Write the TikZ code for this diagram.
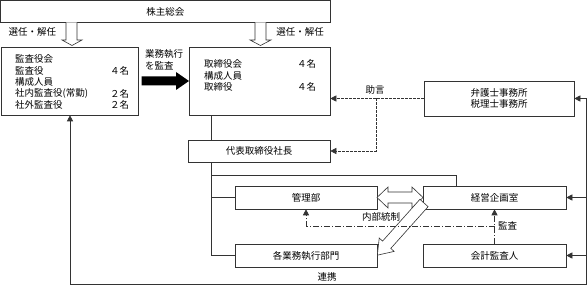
\documentclass[tikz,border=0pt]{standalone}
\usepackage{fontspec}
\setmainfont{Noto Sans CJK JP}
\usetikzlibrary{arrows.meta,calc}
\begin{document}
\begin{tikzpicture}[x=1pt,y=-1pt,
  font=\fontsize{9.5}{11}\selectfont,
  ln/.style={draw=black!80, line width=0.6pt},
  box/.style={ln, rectangle, inner sep=0pt, align=center},
  txt/.style={inner sep=0pt, anchor=west},
  tip/.style={-{Triangle[length=6pt,width=6pt]}},
  dsh/.style={ln, dash pattern=on 2.5pt off 1.5pt},
  dshdot/.style={ln, dash pattern=on 6pt off 2pt on 1pt off 2pt},
  hollow/.style={ln, fill=white}]
\useasboundingbox (0,0) rectangle (587,286);

% boxes
\node[box, minimum width=329.5pt, minimum height=22pt] (sh) at (165.25,11.5) {株主総会};
\node[box, minimum width=137pt, minimum height=68pt] (kansa) at (69.5,81) {};
\node[box, minimum width=141pt, minimum height=68pt] (tori) at (259.5,81) {};
\node[box, minimum width=142pt, minimum height=22pt] (daihyo) at (259,151) {代表取締役社長};
\node[box, minimum width=150pt, minimum height=35pt] (bengo) at (499,98.5) {弁護士事務所\\税理士事務所};
\node[box, minimum width=142pt, minimum height=23pt] (kanri) at (306,197.5) {管理部};
\node[box, minimum width=143pt, minimum height=23pt] (keiei) at (494.5,197.5) {経営企画室};
\node[box, minimum width=142pt, minimum height=23pt] (kakugyo) at (306,255.5) {各業務執行部門};
\node[box, minimum width=143pt, minimum height=23pt] (kaikei) at (494.5,255.5) {会計監査人};

% text in 監査役会
\node[txt] (k1) at (15,59) {監査役会};
\node[txt] (k2) at (15,71) {監査役};
\node[txt] (k3) at (15,82) {構成人員};
\node[txt] (k4) at (15,93.5) {社内監査役(常勤)};
\node[txt] (k5) at (15,105) {社外監査役};
\node[txt] (n1) at (110,71) {４名};
\node[txt] (n2) at (110,93.5) {２名};
\node[txt] (n3) at (110,105) {２名};
% text in 取締役会
\node[txt] (t1) at (204,64) {取締役会};
\node[txt] (t2) at (204,75.5) {構成人員};
\node[txt] (t3) at (204,87) {取締役};
\node[txt] (m1) at (297,64) {４名};
\node[txt] (m2) at (297,87) {４名};

% labels
\node[inner sep=0pt] (l1) at (32.5,32) {選任・解任};
\node[inner sep=0pt] (l2) at (300,32) {選任・解任};
\node[txt] (l3) at (145,53.5) {業務執行};
\node[txt] (l4) at (145,66) {を監査};
\node[inner sep=0pt] (l5) at (375,90) {助言};
\node[inner sep=0pt] (l6) at (381,217) {内部統制};
\node[txt] (l7) at (498,226) {監査};
\node[inner sep=0pt] (l8) at (327,277) {連携};

% hollow arrows from 株主総会
\draw[hollow] (66,22.5) -- (66,40) -- (62,40) -- (72,45.5) -- (82,40) -- (77,40) -- (77,22.5);
\draw[hollow] (255,22.5) -- (255,40) -- (250,40) -- (260.5,45.5) -- (271,40) -- (266,40) -- (266,22.5);

% black arrow
\fill[black] (141.5,76.5) -- (176,76.5) -- (176,72) -- (189,81) -- (176,90) -- (176,85.5) -- (141.5,85.5) -- cycle;

% organisation lines
\coordinate (c1) at ($(tori.south west)+(23,0)$);
\draw[ln] (c1) -- (c1 |- daihyo.north);
\coordinate (c2) at ($(daihyo.south west)+(24,0)$);
\draw[ln] (c2) -- (c2 |- kakugyo.west) -- (kakugyo.west);
\draw[ln] (c2 |- kanri.west) -- (kanri.west);
\coordinate (c3) at (456,175);
\draw[ln] (c2 |- c3) -- (c3) -- (c3 |- keiei.north);

% double hollow arrow
\draw[hollow] (377,197.5) -- (388,187) -- (388,192) -- (412,192) -- (412,187) -- (423,197.5) -- (412,208) -- (412,203) -- (388,203) -- (388,208) -- cycle;

% diagonal hollow arrow
\begin{scope}[shift={(424,203)}, rotate=-131.8]
\draw[hollow] (0,-5.5) -- (56,-5.5) -- (56,-10) -- (70,0) -- (56,10) -- (56,5.5) -- (0,5.5) -- cycle;
\end{scope}

% 助言 dashed
\draw[dsh, tip] (bengo.west) -- (tori.east |- bengo.west);
\coordinate (d1) at (376,98.5);
\draw[dsh, tip] (d1) |- (daihyo.east);

% 監査 dash-dot
\draw[dshdot, tip] (kaikei.north) -- (keiei.south);
\coordinate (e1) at (494.5,226);
\draw[dshdot, tip] (e1) -| (kanri.south);

% right line and 連携
\coordinate (r0) at (586,98.5);
\coordinate (r1) at (586,284);
\coordinate (r2) at (70,284);
\draw[ln, tip] (r0) -- (bengo.east);
\draw[ln] (r0) -- (r1) -- (r2);
\draw[ln, tip] (r2) -- (r2 |- kansa.south);
\draw[ln, tip] (r1 |- keiei.east) -- (keiei.east);
\draw[ln, tip] (r1 |- kaikei.east) -- (kaikei.east);
\end{tikzpicture}
\end{document}
